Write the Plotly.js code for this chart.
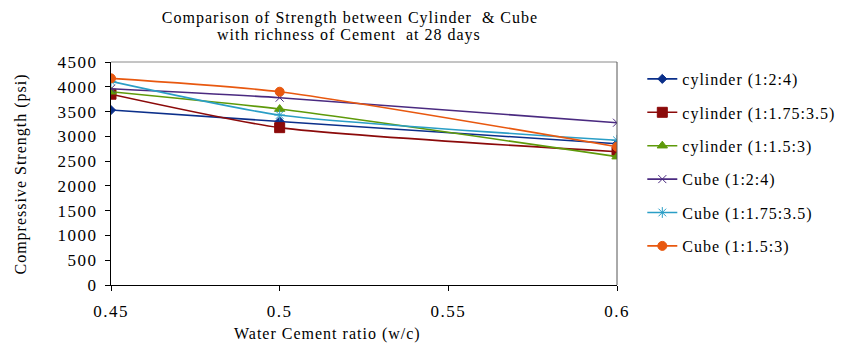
<!DOCTYPE html>
<html>
<head>
<meta charset="utf-8">
<script src="https://cdn.plot.ly/plotly-3.0.1.min.js"></script>
<style>
html,body{margin:0;padding:0;background:#fff;}
#chart{width:852px;height:347px;}
text{letter-spacing:1px;}
.xtick text, .ytick text{letter-spacing:1.5px;}
</style>
</head>
<body>
<div id="chart"></div>
<script>
const wcRatio = [0.45, 0.5, 0.6];
const seriesNames = ["cylinder (1:2:4)", "cylinder (1:1.75:3.5)", "cylinder (1:1.5:3)", "Cube (1:2:4)", "Cube (1:1.75:3.5)", "Cube (1:1.5:3)"];
const cylinder124 = [3530, 3300, 2850];
const cylinder1175 = [3850, 3175, 2690];
const cylinder1153 = [3900, 3550, 2590];
const cube124 = [3960, 3780, 3275];
const cube1175 = [4110, 3430, 2920];
const cube1153 = [4170, 3900, 2790];
const yTicks = [0, 500, 1000, 1500, 2000, 2500, 3000, 3500, 4000, 4500];
const xTicks = [0.45, 0.5, 0.55, 0.6];
const titleLines = ["Comparison of Strength between Cylinder  &amp; Cube", "with richness of Cement  at 28 days"];

const seriesValues = [cylinder124, cylinder1175, cylinder1153, cube124, cube1175, cube1153];
const colors = ["#0b2f8a", "#8b0a0a", "#5e9a0a", "#4a2a80", "#2a9ec6", "#e8580f"];
const symbols = ["diamond", "square", "triangle-up", "x-thin-open", "asterisk-open", "circle"];
const sizes = [7, 10, 9, 8, 9, 9];

const fontFam = "Liberation Serif";
const traces = seriesValues.map((vals, i) => ({
  x: wcRatio, y: vals, name: seriesNames[i], type: "scatter", mode: "lines+markers",
  line: {color: colors[i], width: 1.6, shape: "spline", smoothing: 0.6},
  marker: {color: colors[i], symbol: symbols[i], size: sizes[i], line: {color: colors[i], width: 1}},
  legendgroup: "g" + i
}));

const layout = {
  width: 852, height: 347,
  margin: {l: 111, r: 232, t: 62, b: 62},
  paper_bgcolor: "#fff", plot_bgcolor: "#fff",
  font: {family: fontFam, size: 15, color: "#000"},
  title: {text: titleLines[0],
          x: 350/852, xref: "container", xanchor: "center", y: 1 - 17/347, yref: "container", yanchor: "middle",
          font: {family: fontFam, size: 16, color: "#000"}},
  xaxis: {range: [0.45, 0.6], tickvals: xTicks, ticktext: xTicks.map(String), showgrid: false, zeroline: false,
          showline: true, linecolor: "#000", linewidth: 1, ticks: "outside", ticklen: 5, tickcolor: "#000",
          ticklabelstandoff: 6, tickfont: {family: fontFam, size: 17, color: "#000"}},
  yaxis: {range: [0, 4500], tickvals: yTicks, showgrid: false, zeroline: false,
          showline: true, linecolor: "#000", linewidth: 1, ticks: "outside", ticklen: 5, tickcolor: "#000",
          ticklabelstandoff: 4, tickfont: {family: fontFam, size: 17, color: "#000"}},
  shapes: [
    {type: "line", xref: "paper", yref: "paper", x0: 0, x1: 1, y0: 1, y1: 1, line: {color: "#8a8a8a", width: 1}},
    {type: "line", xref: "paper", yref: "paper", x0: 1, x1: 1, y0: 0, y1: 1, line: {color: "#555", width: 1}}
  ],
  annotations: [
    {text: titleLines[1], xref: "paper", yref: "paper", x: (350-111)/509, y: (285-35)/223, yanchor: "middle",
     showarrow: false, font: {family: fontFam, size: 16, color: "#000"}},
    {text: "Water Cement ratio (w/c)", xref: "paper", yref: "paper", x: (329-111)/509, y: -(334-285)/223, yanchor: "middle",
     showarrow: false, font: {family: fontFam, size: 16, color: "#000"}},
    {text: "Compressive Strength (psi)", xref: "paper", yref: "paper", x: (20-111)/509, y: (285-174)/223, xanchor: "center",
     textangle: -90, showarrow: false, font: {family: fontFam, size: 16, color: "#000"}}
  ],
  legend: {x: 1.05, xanchor: "left", y: 1.0, yanchor: "top", tracegroupgap: 9.6,
           font: {family: fontFam, size: 16, color: "#000"}, bgcolor: "rgba(0,0,0,0)"},
  showlegend: true
};

Plotly.newPlot("chart", traces, layout, {displayModeBar: false, staticPlot: true});
</script>
</body>
</html>
